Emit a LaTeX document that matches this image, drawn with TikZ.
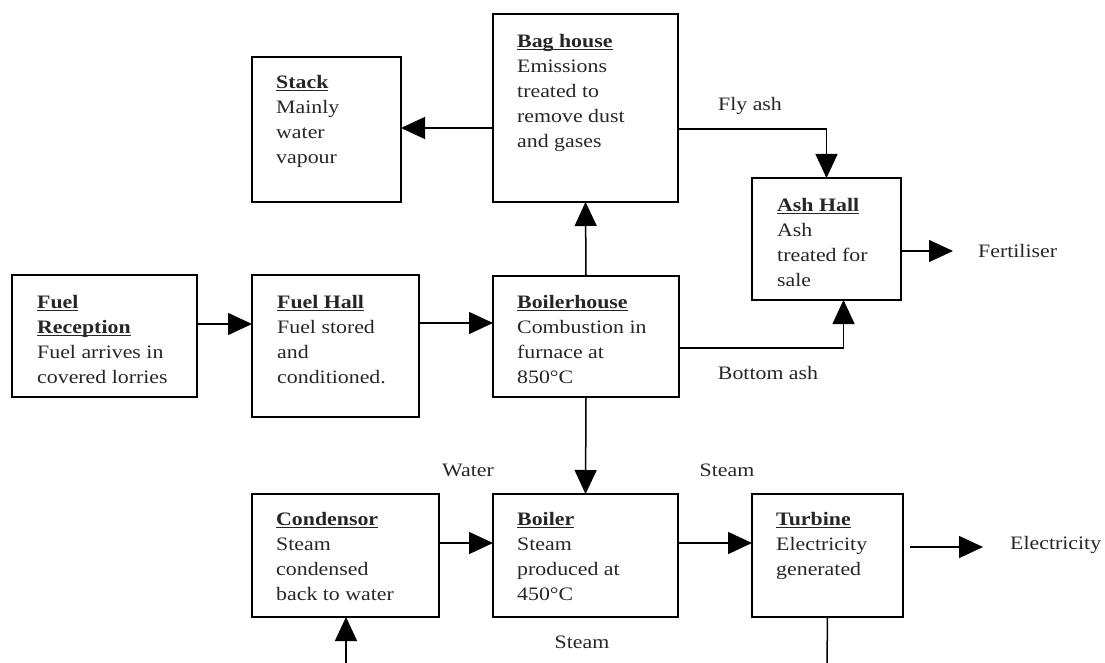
\documentclass[tikz,border=0pt]{standalone}
\usepackage{fontspec}
\setmainfont{Liberation Serif}[FakeStretch=1.15]
\usetikzlibrary{arrows.meta,calc}
\newcommand{\hdr}[1]{\setbox0\hbox{\textbf{#1}}\rlap{\rule[-3pt]{\wd0}{1.6pt}}\box0}
\begin{document}
\begin{tikzpicture}[x=1pt,y=-1pt,
  box/.style={draw, line width=1.6pt, anchor=north west, inner sep=0pt, outer sep=0pt},
  txt/.style={anchor=north west, inner sep=0pt, align=left, text=black!85, font=\fontsize{19}{25}\selectfont},
  lbl/.style={inner sep=0pt, text=black!85, font=\fontsize{19}{25}\selectfont},
  conn/.style={line width=1.5pt, -{Triangle[length=24pt,width=22pt]}},
  plain/.style={line width=1.5pt}]
\useasboundingbox (0,0) rectangle (1105,663);
% boxes
\node[box, minimum width=185, minimum height=122] (fr) at (12,275) {};
\node[box, minimum width=167, minimum height=142] (fh) at (252,275) {};
\node[box, minimum width=186, minimum height=121] (bh) at (493,276) {};
\node[box, minimum width=149, minimum height=145] (st) at (252,57) {};
\node[box, minimum width=185, minimum height=188] (bag) at (493,14) {};
\node[box, minimum width=149, minimum height=122] (ash) at (752,178) {};
\node[box, minimum width=187, minimum height=123] (cond) at (252,494) {};
\node[box, minimum width=185, minimum height=123] (boil) at (493,494) {};
\node[box, minimum width=151, minimum height=123] (tur) at (752,494) {};
% texts
\node[txt] (frt) at ($(fr.north west)+(25,20)$) {\hdr{Fuel}\\\hdr{Reception}\\Fuel arrives in\\covered lorries};
\node[txt] (fht) at ($(fh.north west)+(25,20)$) {\hdr{Fuel Hall}\\Fuel stored\\and\\conditioned.};
\node[txt] (bht) at ($(bh.north west)+(24,19)$) {\hdr{Boilerhouse}\\Combustion in\\furnace at\\850°C};
\node[txt] (stt) at ($(st.north west)+(24,18)$) {\hdr{Stack}\\Mainly\\water\\vapour};
\node[txt] (bagt) at ($(bag.north west)+(24,20)$) {\hdr{Bag house}\\Emissions\\treated to\\remove dust\\and gases};
\node[txt] (asht) at ($(ash.north west)+(25,20)$) {\hdr{Ash Hall}\\Ash\\treated for\\sale};
\node[txt] (condt) at ($(cond.north west)+(24,18)$) {\hdr{Condensor}\\Steam\\condensed\\back to water};
\node[txt] (boilt) at ($(boil.north west)+(24,18)$) {\hdr{Boiler}\\Steam\\produced at\\450°C};
\node[txt] (turt) at ($(tur.north west)+(24,18)$) {\hdr{Turbine}\\Electricity\\generated};
% free labels
\node[lbl] (flyash) at (750,106) {Fly ash};
\node[lbl] (botash) at (768,373) {Bottom ash};
\node[lbl, anchor=west] (fert) at (978,251) {Fertiliser};
\node[lbl] (water) at (468,470) {Water};
\node[lbl] (steam1) at (727,470) {Steam};
\node[lbl] (steam2) at (582,642) {Steam};
\node[lbl, anchor=west] (elec) at (1010,545) {Electricity};
% connectors
\draw[conn] ($(fr.north east)+(0,49)$) coordinate (a1) -- (a1 -| fh.west);
\draw[conn] ($(fh.north east)+(0,48)$) coordinate (a2) -- (a2 -| bh.west);
\draw[conn] (bh.north) -- (bag.south);
\draw[conn] ($(bag.north west)+(0,114)$) coordinate (a4) -- (a4 -| st.east);
\draw[conn] ($(bag.north east)+(0,115)$) coordinate (a5) -| (ash.north);
\draw[conn] ($(bh.north east)+(0,72)$) coordinate (a6) -| ($(ash.south)+(17,0)$);
\draw[conn] ($(ash.north east)+(0,73)$) coordinate (a7) -- ([xshift=-25pt]fert.west);
\draw[conn] (bh.south) -- (boil.north);
\draw[conn] ($(cond.north east)+(0,49)$) coordinate (a9) -- (a9 -| boil.west);
\draw[conn] ($(boil.north east)+(0,49)$) coordinate (a10) -- (a10 -| tur.west);
\draw[conn] ($(tur.north east)+(7,53)$) coordinate (a11) -- ([xshift=-27pt]elec.west |- a11);
\coordinate (tb) at (827,663);
\draw[plain] (tur.south) -- (tb);
\coordinate (cb) at (346,663);
\draw[conn] (cb) -- (cb |- cond.south);
\end{tikzpicture}
\end{document}
